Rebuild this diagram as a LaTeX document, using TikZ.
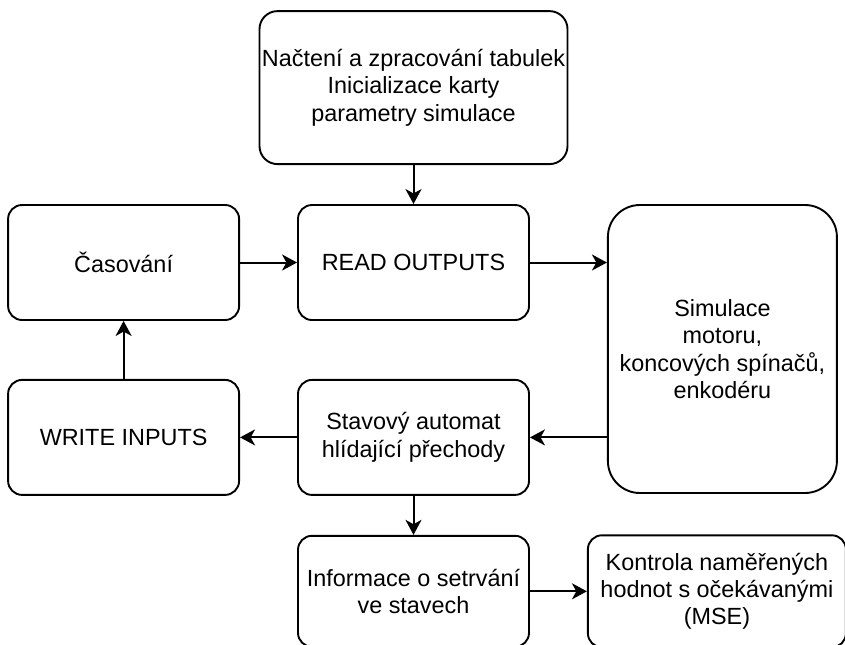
\documentclass[tikz,border=0pt]{standalone}
\usepackage{fontspec}
\setmainfont{Liberation Sans}
\usetikzlibrary{positioning,arrows.meta}

\begin{document}
\begin{tikzpicture}[x=0.5pt,y=-0.5pt]
	\tikzstyle{block}=[rectangle, rounded corners=7pt, draw=black, line width=0.95pt, align=center, inner sep=0pt, minimum width=115.5pt, minimum height=57.5pt, font=\fontsize{11.7}{13.7}\selectfont]
	\tikzstyle{connect}=[-{Stealth[length=7.5pt, width=8pt, inset=2.2pt]}, line width=1pt]
	\useasboundingbox (0,0) rectangle (845,644);
	  \node[block] (read) at (413.5,262.5) {READ OUTPUTS};
	  \node[block, minimum width=154pt, minimum height=76.5pt, rounded corners=9pt] (init) [above=19.5pt of read] {Načtení a zpracování tabulek\\Inicializace karty\\parametry simulace};
	  \node[block] (cas) [left=28.5pt of read] {Časování};
	  \node[block] (stav) [below=29pt of read] {Stavový automat\\hlídající přechody};
	  \node[block] (write) [left=28.5pt of stav] {WRITE INPUTS};
	  \node[block, minimum width=114.5pt, minimum height=144pt, rounded corners=16pt] (sim) [right=38.5pt of read.north east, anchor=north west] {Simulace\\motoru,\\koncových spínačů,\\enkodéru};
	  \node[block, minimum height=55.5pt] (info) [below=19.5pt of stav] {Informace o setrvání\\ve stavech};
	  \node[block, minimum width=129pt, minimum height=56pt] (kontr) [right=28.5pt of info] {Kontrola naměřených\\hodnot s očekávanými\\(MSE)};
	  \path (init) edge [connect] (read)
			(cas) edge [connect] (read)
			(read.east) edge [connect] (read.east -| sim.west)
			(sim.west |- stav.east) edge [connect] (stav.east)
			(stav) edge [connect] (write)
			(write) edge [connect] (cas)
			(stav) edge [connect] (info)
			(info) edge [connect] (kontr);
\end{tikzpicture}
\end{document}
